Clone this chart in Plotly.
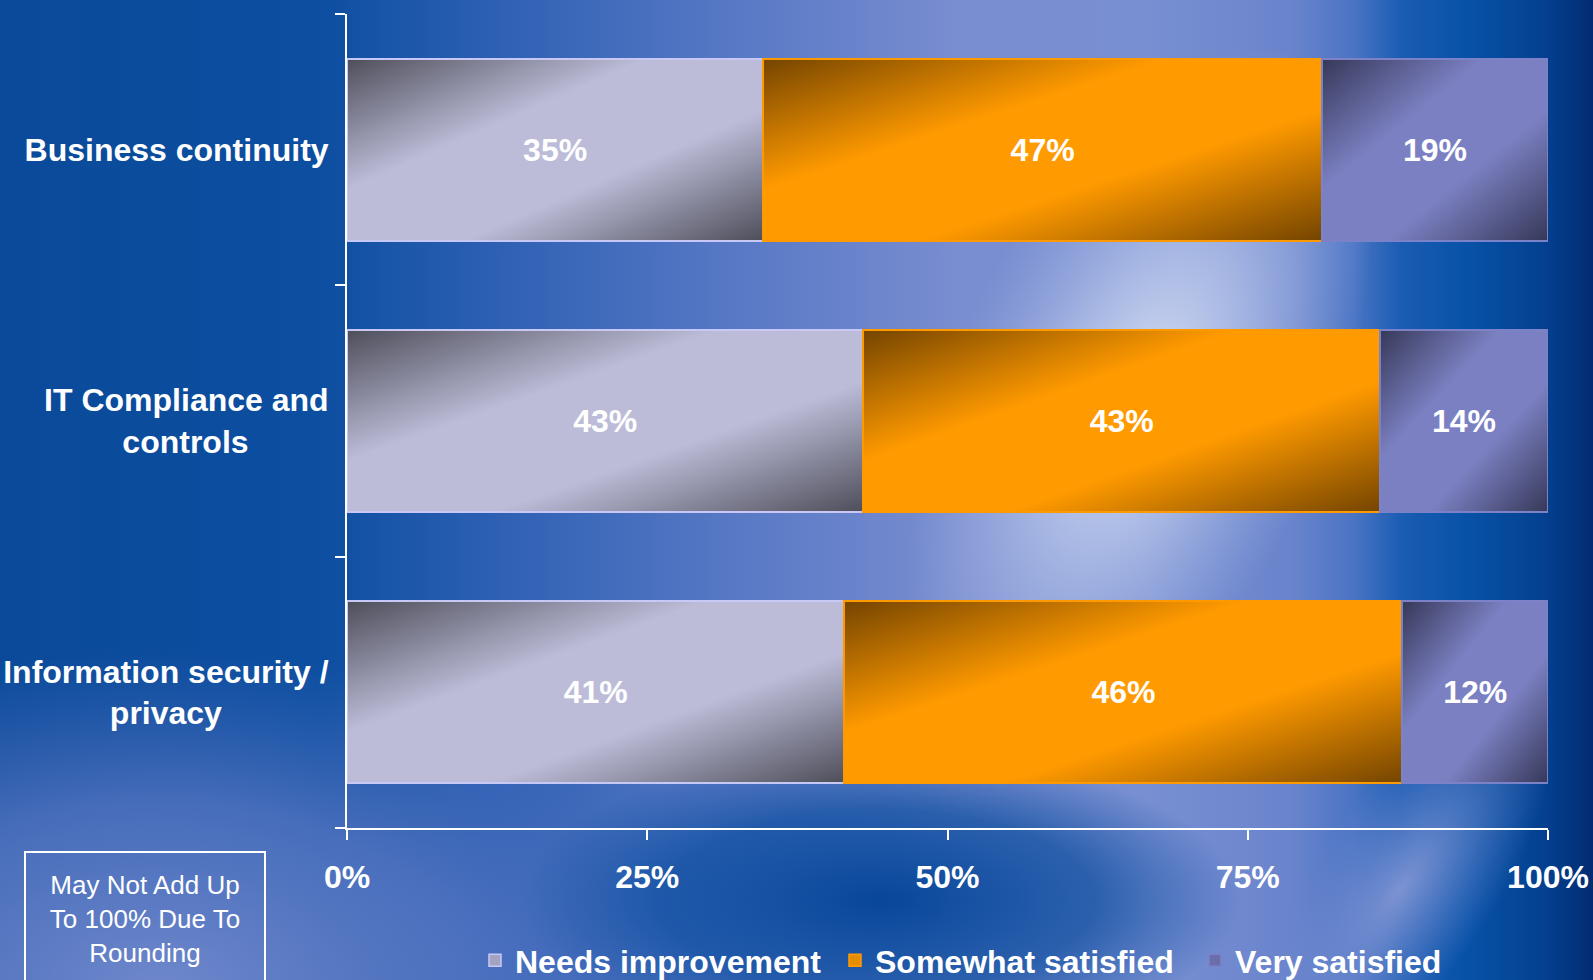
import base64
import plotly.graph_objects as go

# ---- data -------------------------------------------------------------
categories = ["Business continuity", "IT Compliance and controls", "Information security / privacy"]
# axis labels: two-line labels are padded with no-break spaces so the short line sits centred
category_tick_text = [
    "Business continuity",
    "IT Compliance and<br>controls" + "\u00a0" * 9,
    "Information security /<br>privacy" + "\u00a0" * 12,
]
series_names = ["Needs improvement", "Somewhat satisfied", "Very satisfied"]
needs_improvement = [35, 43, 41]
somewhat_satisfied = [47, 43, 46]
very_satisfied = [19, 14, 12]
x_tick_values = [0, 25, 50, 75, 100]
x_tick_labels = ["0%", "25%", "50%", "75%", "100%"]
footnote = "May Not Add Up<br>To 100% Due To<br>Rounding"

# ---- styling ----------------------------------------------------------
W, H = 1593, 980
M_L, M_R, M_T, M_B = 347, 45, 14, 152
BAR_WIDTH = 0.67
FONT = "Arial, 'Liberation Sans', sans-serif"

series_values = [needs_improvement, somewhat_satisfied, very_satisfied]
# (dark corner colour, light centre colour, outline colour, legend swatch colour)
series_styles = [
    ("#4e4e5a", "#bcbcd8", "#c8c8f6", "#a4a4c2"),
    ("#744400", "#ff9a00", "#ff9900", "#e68c00"),
    ("#363858", "#7b80c2", "#7c82c8", "#6a6eaa"),
]


def svg_uri(svg):
    return "data:image/svg+xml;base64," + base64.b64encode(svg.encode("utf-8")).decode("ascii")


def bar_gradient(dark, light):
    return svg_uri(
        '<svg xmlns="http://www.w3.org/2000/svg" width="100" height="100" viewBox="0 0 100 100" '
        'preserveAspectRatio="none"><defs>'
        '<linearGradient id="g" x1="0" y1="0" x2="1" y2="1">'
        f'<stop offset="0" stop-color="{dark}"/>'
        f'<stop offset="0.36" stop-color="{light}"/>'
        f'<stop offset="0.64" stop-color="{light}"/>'
        f'<stop offset="1" stop-color="{dark}"/>'
        '</linearGradient></defs>'
        '<rect width="100" height="100" fill="url(#g)"/></svg>'
    )


background_svg = f"""<svg xmlns="http://www.w3.org/2000/svg" width="{W}" height="{H}" viewBox="0 0 {W} {H}" preserveAspectRatio="none">
<defs>
 <linearGradient id="base" x1="0" y1="0" x2="1" y2="0">
  <stop offset="0" stop-color="#0b4a9a"/>
  <stop offset="0.2" stop-color="#0c4ea0"/>
  <stop offset="0.3" stop-color="#2a5eb2"/>
  <stop offset="0.45" stop-color="#5577c4"/>
  <stop offset="0.6" stop-color="#798dd0"/>
  <stop offset="0.72" stop-color="#788fd2"/>
  <stop offset="0.81" stop-color="#6a84cc"/>
  <stop offset="0.85" stop-color="#4a74c4"/>
  <stop offset="0.88" stop-color="#1a5cb2"/>
  <stop offset="0.92" stop-color="#0752a8"/>
  <stop offset="0.97" stop-color="#04408f"/>
  <stop offset="1" stop-color="#022c72"/>
 </linearGradient>
 <radialGradient id="glow">
  <stop offset="0" stop-color="#dfe6f6" stop-opacity="0.95"/>
  <stop offset="0.45" stop-color="#c4d0ee" stop-opacity="0.6"/>
  <stop offset="1" stop-color="#a8b8e4" stop-opacity="0"/>
 </radialGradient>
 <radialGradient id="lightblob">
  <stop offset="0" stop-color="#7088cc" stop-opacity="1"/>
  <stop offset="0.55" stop-color="#5a78c4" stop-opacity="0.75"/>
  <stop offset="1" stop-color="#4a6cbc" stop-opacity="0"/>
 </radialGradient>
 <radialGradient id="darkblob">
  <stop offset="0" stop-color="#08469a" stop-opacity="1"/>
  <stop offset="0.6" stop-color="#0a4c9e" stop-opacity="0.7"/>
  <stop offset="1" stop-color="#0a4c9e" stop-opacity="0"/>
 </radialGradient>
 <radialGradient id="streak">
  <stop offset="0" stop-color="#8296d4" stop-opacity="0.95"/>
  <stop offset="1" stop-color="#6a84cc" stop-opacity="0"/>
 </radialGradient>
</defs>
<rect width="{W}" height="{H}" fill="url(#base)"/>
<ellipse cx="160" cy="990" rx="560" ry="340" fill="url(#lightblob)"/>
<ellipse cx="880" cy="900" rx="360" ry="150" fill="url(#darkblob)"/>
<ellipse cx="1140" cy="400" rx="190" ry="380" transform="rotate(24 1140 400)" fill="url(#glow)"/>
<ellipse cx="1400" cy="890" rx="90" ry="230" transform="rotate(35 1400 890)" fill="url(#streak)"/>
</svg>"""

plot_w = W - M_L - M_R
plot_h = H - M_T - M_B

fig = go.Figure()

images = [
    dict(
        source=svg_uri(background_svg), xref="paper", yref="paper",
        x=-M_L / plot_w, y=1 + M_T / plot_h, sizex=W / plot_w, sizey=H / plot_h,
        xanchor="left", yanchor="top", sizing="stretch", layer="below",
    )
]

# gradient fills underneath each (outlined) bar, placed on the data axes
totals = [sum(v) for v in zip(*series_values)]
starts = [0.0] * len(categories)
for values, (dark, light, _, _) in zip(series_values, series_styles):
    uri = bar_gradient(dark, light)
    for i, v in enumerate(values):
        pct = v / totals[i] * 100
        images.append(dict(
            source=uri, xref="x", yref="y", x=starts[i], y=i,
            sizex=pct, sizey=BAR_WIDTH, xanchor="left", yanchor="middle",
            sizing="stretch", layer="below",
        ))
        starts[i] += pct

for name, values, (_, _, line_col, _) in zip(series_names, series_values, series_styles):
    fig.add_trace(go.Bar(
        y=categories, x=values, orientation="h", name=name, width=BAR_WIDTH,
        marker=dict(color="rgba(0,0,0,0)", line=dict(color=line_col, width=2)),
        text=[f"{v}%" for v in values], textposition="inside", insidetextanchor="middle",
        constraintext="none",
        textfont=dict(family=FONT, size=32, color="white", weight="bold"),
        showlegend=False, hoverinfo="skip",
    ))

# legend entries
for name, (_, _, line_col, swatch) in zip(series_names, series_styles):
    fig.add_trace(go.Bar(
        y=[None], x=[None], orientation="h", name=name,
        marker=dict(color=swatch, line=dict(color=line_col, width=1.5)),
        showlegend=True, hoverinfo="skip",
    ))

fig.update_layout(
    width=W, height=H,
    margin=dict(l=M_L, r=M_R, t=M_T, b=M_B, pad=0, autoexpand=False),
    barmode="stack", barnorm="percent",
    paper_bgcolor="#0b4a9a", plot_bgcolor="rgba(0,0,0,0)",
    font=dict(family=FONT, color="white"),
    images=images,
    showlegend=True,
    legend=dict(
        orientation="h", x=(475 - M_L) / plot_w, xanchor="left",
        y=(plot_h + M_T - 933) / plot_h, yanchor="top",
        font=dict(family=FONT, size=32, color="white", weight="bold"),
        bgcolor="rgba(0,0,0,0)", traceorder="normal", itemwidth=30,
        entrywidth=315, entrywidthmode="pixels",
    ),
    annotations=[dict(
        text=footnote, xref="paper", yref="paper",
        x=(145 - M_L) / plot_w, xanchor="center",
        y=(plot_h + M_T - 851) / plot_h, yanchor="top",
        showarrow=False, align="center", valign="middle",
        width=232, height=126, borderpad=3, borderwidth=2, bordercolor="white",
        font=dict(family=FONT, size=26, color="white"),
    )],
)

fig.update_xaxes(
    range=[0, 100], tickvals=x_tick_values, ticktext=x_tick_labels,
    showgrid=False, zeroline=False, showline=True, linecolor="white", linewidth=2,
    ticks="outside", ticklen=10, tickwidth=2, tickcolor="white",
    tickfont=dict(family=FONT, size=32, color="white", weight="bold"),
    ticklabelstandoff=10, fixedrange=True,
)
fig.update_yaxes(
    type="category", categoryorder="array", categoryarray=categories,
    tickvals=categories, ticktext=category_tick_text,
    autorange="reversed", tickson="boundaries",
    showgrid=False, zeroline=False, showline=True, linecolor="white", linewidth=2,
    ticks="outside", ticklen=10, tickwidth=2, tickcolor="white",
    tickfont=dict(family=FONT, size=32, color="white", weight="bold"),
    ticklabelstandoff=10, fixedrange=True,
)

fig.write_html("out.html", config={"displayModeBar": False})
